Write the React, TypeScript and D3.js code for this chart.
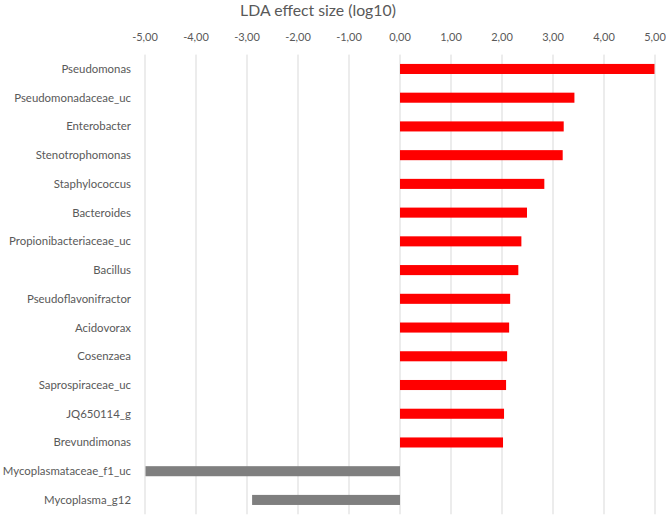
import React from "react";
import * as d3 from "d3";

const taxa = [
  "Pseudomonas",
  "Pseudomonadaceae_uc",
  "Enterobacter",
  "Stenotrophomonas",
  "Staphylococcus",
  "Bacteroides",
  "Propionibacteriaceae_uc",
  "Bacillus",
  "Pseudoflavonifractor",
  "Acidovorax",
  "Cosenzaea",
  "Saprospiraceae_uc",
  "JQ650114_g",
  "Brevundimonas",
  "Mycoplasmataceae_f1_uc",
  "Mycoplasma_g12",
];
const ldaValues = [
  4.99, 3.42, 3.21, 3.19, 2.83, 2.49, 2.38, 2.32, 2.16, 2.14, 2.1, 2.08, 2.04, 2.02, -4.99, -2.9,
];
const tickValues = [-5, -4, -3, -2, -1, 0, 1, 2, 3, 4, 5];
const title = "LDA effect size (log10)";

const W = 666;
const H = 516;

export default function App() {
  const x = d3.scaleLinear().domain([-5, 5]).range([145, 655]);
  const y = d3.scaleBand<string>().domain(taxa).range([54.6, 514.3]).paddingInner(0.65).paddingOuter(0.325);
  const fmt = (v: number) => v.toFixed(2).replace(".", ",");
  const font = "Lato, 'Open Sans', sans-serif";
  const textColor = "#595959";

  return (
    <svg
      width={W}
      height={H}
      style={{ position: "absolute", left: 0, top: 0, background: "#fff" }}
      fontFamily={font}
    >
      <rect x={0} y={0} width={W} height={H} fill="#fff" />
      <text x={318} y={15.5} textAnchor="middle" fontSize={15.8} fill={textColor}>
        {title}
      </text>
      {tickValues.map((t) => (
        <g key={t}>
          <line x1={x(t)} x2={x(t)} y1={54.6} y2={514.3} stroke="#d9d9d9" strokeWidth={1} />
          <text x={x(t)} y={41} textAnchor="middle" fontSize={11} fill={textColor}>
            {fmt(t)}
          </text>
        </g>
      ))}
      {taxa.map((name, i) => {
        const v = ldaValues[i];
        const yy = y(name)!;
        return (
          <g key={name}>
            <rect
              x={Math.min(x(0), x(v))}
              y={yy}
              width={Math.abs(x(v) - x(0))}
              height={y.bandwidth()}
              fill={v >= 0 ? "#ff0000" : "#7f7f7f"}
            />
            <text
              x={131}
              y={yy + y.bandwidth() / 2}
              dy="0.35em"
              textAnchor="end"
              fontSize={11.4}
              fill={textColor}
            >
              {name}
            </text>
          </g>
        );
      })}
    </svg>
  );
}
